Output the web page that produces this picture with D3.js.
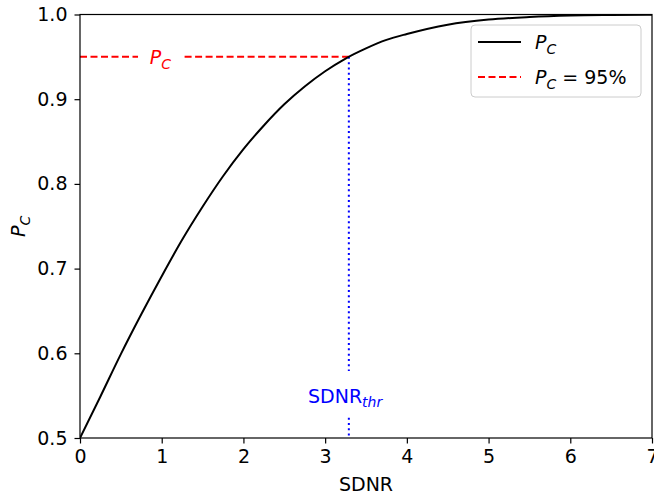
<!DOCTYPE html>
<html>
<head>
<meta charset="utf-8">
<script src="https://cdn.jsdelivr.net/npm/d3@7"></script>
<style>
  body { margin: 0; background: #fff; }
  text { font-family: "DejaVu Sans", sans-serif; }
</style>
</head>
<body>
<div id="chart"></div>
<script>
// SDNR values and read-off probability of correct answer
const sdnr = [0, 0.25, 0.5, 0.75, 1, 1.25, 1.5, 1.75, 2, 2.25, 2.5, 2.75, 3, 3.25, 3.5, 3.75, 4, 4.5, 5, 5.5, 6, 6.5, 7];
const pc = [0.5, 0.549, 0.599, 0.646, 0.691, 0.734, 0.773, 0.809, 0.841, 0.869, 0.894, 0.915, 0.933, 0.948, 0.960, 0.970, 0.977, 0.988, 0.994, 0.997, 0.9987, 0.9994, 0.9998];
const xTicks = [0, 1, 2, 3, 4, 5, 6, 7];
const yTicks = [0.5, 0.6, 0.7, 0.8, 0.9, 1.0];
const pcTarget = 0.95;
const sdnrThr = 3.29;

const width = 654, height = 496;
const margin = { left: 80, right: 2, top: 14.5, bottom: 58 };

const svg = d3.select("#chart").append("svg")
  .attr("width", width)
  .attr("height", height);

const x = d3.scaleLinear().domain([0, 7]).range([margin.left, width - margin.right]);
const y = d3.scaleLinear().domain([0.5, 1.0]).range([height - margin.bottom, margin.top]);

// clip
svg.append("clipPath").attr("id", "clip").append("rect")
  .attr("x", x(0)).attr("y", y(1)).attr("width", x(7) - x(0)).attr("height", y(0.5) - y(1));

const data = sdnr.map((s, i) => ({ s, p: pc[i] }));

// red dashed threshold line with a gap for its label
const labelGap = [0.71, 1.28];
svg.append("line")
  .attr("x1", x(0)).attr("x2", x(labelGap[0]))
  .attr("y1", y(pcTarget)).attr("y2", y(pcTarget))
  .attr("stroke", "red").attr("stroke-width", 2).attr("stroke-dasharray", "7,3.5");
svg.append("line")
  .attr("x1", x(labelGap[1])).attr("x2", x(sdnrThr))
  .attr("y1", y(pcTarget)).attr("y2", y(pcTarget))
  .attr("stroke", "red").attr("stroke-width", 2).attr("stroke-dasharray", "7,3.5");

const pcLabel = svg.append("text")
  .attr("x", x(1) - 12).attr("y", y(pcTarget) + 7)
  .attr("fill", "red").attr("font-size", 19).attr("font-style", "italic");
pcLabel.append("tspan").text("P");
pcLabel.append("tspan").attr("font-size", 14).attr("dy", 5).text("C");

// blue dotted vertical line with gap for label
svg.append("line")
  .attr("x1", x(sdnrThr)).attr("x2", x(sdnrThr))
  .attr("y1", y(pcTarget)).attr("y2", y(0.579))
  .attr("stroke", "blue").attr("stroke-width", 2).attr("stroke-dasharray", "2,3.3");
svg.append("line")
  .attr("x1", x(sdnrThr)).attr("x2", x(sdnrThr))
  .attr("y1", y(0.524)).attr("y2", y(0.5))
  .attr("stroke", "blue").attr("stroke-width", 2).attr("stroke-dasharray", "2,3.3");

const thrLabel = svg.append("text")
  .attr("x", 308).attr("y", y(0.55) + 7)
  .attr("fill", "blue").attr("font-size", 19);
thrLabel.append("tspan").text("SDNR");
thrLabel.append("tspan").attr("font-size", 14).attr("font-style", "italic").attr("dy", 4).text("thr");

// curve
const line = d3.line().x(d => x(d.s)).y(d => y(d.p)).curve(d3.curveMonotoneX);
svg.append("path")
  .datum(data)
  .attr("clip-path", "url(#clip)")
  .attr("fill", "none")
  .attr("stroke", "black")
  .attr("stroke-width", 2)
  .attr("d", line);

// axes
const xAxis = svg.append("g")
  .attr("transform", `translate(0,${y(0.5)})`)
  .call(d3.axisBottom(x).tickValues(xTicks).tickFormat(d3.format("d")).tickSize(5.5).tickPadding(6));
const yAxis = svg.append("g")
  .attr("transform", `translate(${x(0)},0)`)
  .call(d3.axisLeft(y).tickValues(yTicks).tickFormat(d3.format(".1f")).tickSize(5.5).tickPadding(7));
[xAxis, yAxis].forEach(g => {
  g.selectAll("text").attr("font-size", 19).attr("fill", "#000").style("font-family", "DejaVu Sans");
  g.selectAll("line").attr("stroke", "#000").attr("stroke-width", 1.2);
  g.select(".domain").remove();
});

// frame
svg.append("rect")
  .attr("x", x(0)).attr("y", y(1))
  .attr("width", x(7) - x(0)).attr("height", y(0.5) - y(1))
  .attr("fill", "none").attr("stroke", "#000").attr("stroke-width", 1.2);

// axis labels
svg.append("text")
  .attr("x", (x(0) + x(7)) / 2).attr("y", 491)
  .attr("text-anchor", "middle").attr("font-size", 19)
  .text("SDNR");

const yl = svg.append("text")
  .attr("transform", `translate(25,${(y(0.5) + y(1)) / 2}) rotate(-90)`)
  .attr("text-anchor", "middle").attr("font-size", 19).attr("font-style", "italic");
yl.append("tspan").text("P");
yl.append("tspan").attr("font-size", 14).attr("dy", 5).text("C");

// legend
const lg = svg.append("g").attr("transform", "translate(471,25)");
lg.append("rect")
  .attr("width", 170).attr("height", 72).attr("rx", 4)
  .attr("fill", "#fff").attr("fill-opacity", 0.85)
  .attr("stroke", "#ccc").attr("stroke-width", 1);
const legendItems = [
  { label: "", color: "black", dash: null, y: 17 },
  { label: " = 95%", color: "red", dash: "7,3.5", y: 52 }
];
legendItems.forEach(d => {
  lg.append("line")
    .attr("x1", 7).attr("x2", 50).attr("y1", d.y).attr("y2", d.y)
    .attr("stroke", d.color).attr("stroke-width", 2)
    .attr("stroke-dasharray", d.dash);
  const t = lg.append("text").attr("x", 64).attr("y", d.y + 7).attr("font-size", 19);
  t.append("tspan").attr("font-style", "italic").text("P");
  t.append("tspan").attr("font-style", "italic").attr("font-size", 14).attr("dy", 5).text("C");
  if (d.label) t.append("tspan").attr("dy", -5).text(d.label);
});
</script>
</body>
</html>
